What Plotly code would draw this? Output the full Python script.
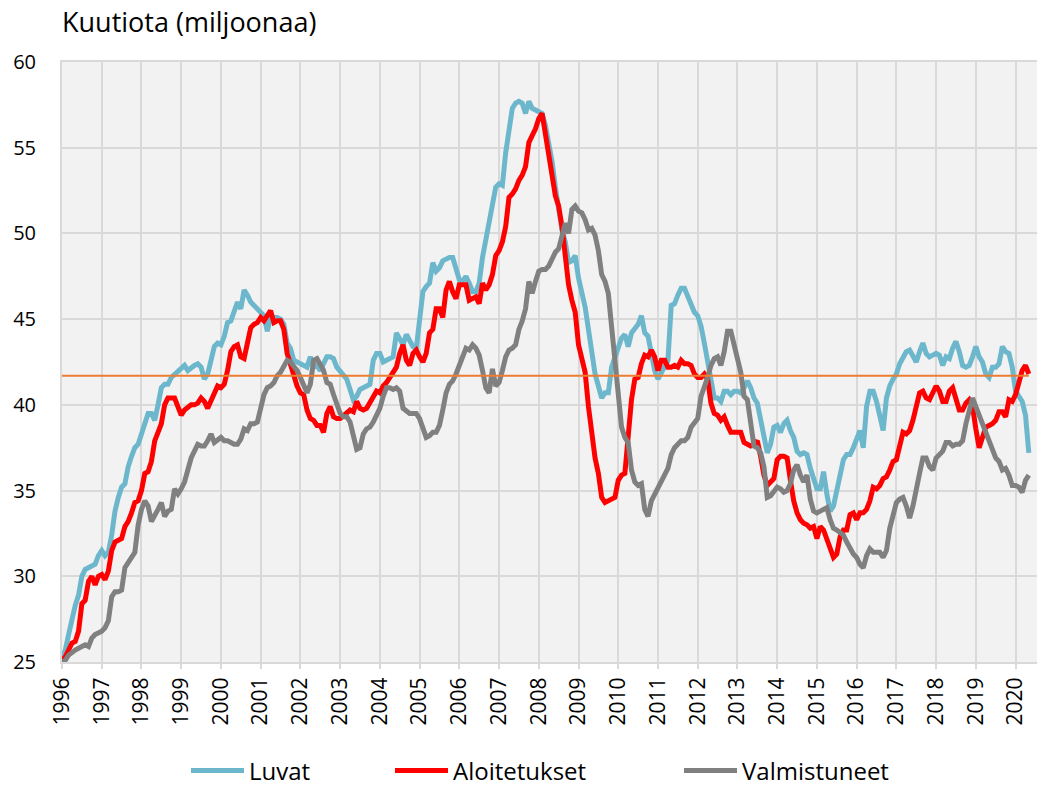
import plotly.graph_objects as go

start_year = 1996
months_count = 293

luvat = [
    25.2, 25.7, 26.6, 27.5, 28.3, 28.9, 30.0, 30.4, 30.5, 30.6, 30.7, 31.2,
    31.5, 31.2, 31.4, 32.4, 33.8, 34.6, 35.2, 35.4, 36.4, 37.0, 37.5, 37.7,
    38.3, 39.1, 39.5, 39.5, 39.1, 40.0, 41.0, 41.2, 41.2, 41.6, 41.8, 42.0,
    42.2, 42.3, 42.0, 42.2, 42.3, 42.4, 42.2, 41.5, 41.8, 42.6, 43.4, 43.6,
    43.5, 44.0, 44.8, 44.9, 45.4, 46.0, 45.6, 46.7, 46.4, 46.0, 45.8, 45.6,
    45.4, 45.2, 44.3, 45.1, 45.1, 45.1, 45.0, 44.7, 43.6, 43.3, 42.6, 42.5,
    42.4, 42.3, 42.2, 42.8, 42.2, 42.3, 42.0, 42.4, 42.8, 42.8, 42.7, 42.2,
    42.0, 41.7, 41.5, 40.9, 40.3, 40.5, 40.9, 41.0, 41.1, 41.2, 42.6, 43.0,
    43.0, 42.5, 42.6, 42.7, 42.8, 44.2, 43.9, 43.5, 44.1, 43.8, 43.4, 43.3,
    45.1, 46.6, 46.9, 47.1, 48.3, 47.8, 48.0, 48.4, 48.5, 48.6, 48.6, 47.8,
    47.3, 47.2, 47.5, 47.1, 46.6, 46.6, 47.1, 48.6, 49.7, 50.8, 51.9, 52.7,
    52.9, 52.8, 54.7, 56.2, 57.3, 57.6, 57.7, 57.6, 57.0, 57.7, 57.3, 57.2,
    57.1, 57.0, 56.3, 55.4, 54.2, 52.7, 51.3, 50.2, 49.5, 48.3, 48.4, 48.7,
    47.4, 46.5, 45.7, 44.4, 43.1, 41.8, 41.1, 40.4, 40.7, 40.7, 42.2, 42.8,
    43.4, 43.9, 44.1, 43.4, 44.2, 44.4, 44.7, 45.2, 44.2, 44.0, 43.1, 42.0,
    41.5, 41.9, 42.3, 42.6, 45.8, 45.9, 46.4, 46.8, 46.8, 46.3, 45.9, 45.4,
    45.2, 44.6, 43.6, 42.5, 41.2, 40.4, 40.4, 40.2, 40.8, 40.8, 40.6, 40.8,
    40.8, 40.7, 41.0, 41.4, 41.0, 40.4, 40.1, 39.2, 38.0, 37.2, 37.7, 38.7,
    38.8, 38.4, 38.9, 39.1, 38.5, 38.1, 37.3, 37.1, 37.2, 37.1, 36.3, 35.6,
    35.1, 35.1, 36.1, 34.8, 33.8, 34.1, 35.1, 36.0, 36.8, 37.1, 37.1, 37.5,
    38.0, 38.5, 37.5, 39.9, 40.8, 40.8, 40.2, 39.4, 38.5, 40.4, 41.1, 41.5,
    41.8, 42.4, 42.8, 43.1, 43.2, 42.9, 42.5, 43.1, 43.6, 43.0, 42.8, 42.9,
    43.0, 42.9, 42.3, 42.8, 42.7, 43.3, 43.7, 43.1, 42.3, 42.2, 42.3, 42.8,
    43.4, 42.8, 42.5, 41.8, 41.6, 42.2, 42.2, 42.4, 43.4, 43.1, 43.0, 42.2,
    40.8, 40.5, 40.2, 39.4, 37.2,
]

aloitetukset = [
    25.1, 25.3, 25.7, 26.1, 26.2, 26.8, 28.4, 28.6, 29.7, 30.0, 29.5, 30.0,
    30.1, 29.8, 30.3, 31.5, 32.0, 32.1, 32.2, 32.9, 33.2, 33.7, 34.3, 34.4,
    35.0, 36.0, 36.1, 36.7, 37.9, 38.4, 38.9, 40.0, 40.4, 40.4, 40.4, 39.9,
    39.4, 39.7, 39.9, 40.0, 40.0, 40.1, 40.4, 40.2, 39.8, 40.3, 40.8, 41.1,
    41.0, 41.2, 42.0, 43.1, 43.4, 43.5, 42.8, 42.7, 43.6, 44.5, 44.7, 44.8,
    45.1, 44.9, 45.2, 45.5, 44.8, 44.9, 44.9, 44.4, 43.0, 42.3, 41.8, 41.1,
    40.7, 40.6, 39.7, 39.2, 39.1, 38.8, 38.8, 38.4, 39.5, 39.9, 39.3, 39.2,
    39.2, 39.4, 39.6, 39.7, 39.6, 40.2, 39.8, 39.7, 39.8, 40.1, 40.5, 40.8,
    40.7, 41.1, 41.3, 41.6, 42.0, 42.2, 43.0, 43.5, 42.6, 42.3, 43.0, 43.2,
    42.8, 42.5, 43.0, 44.2, 44.4, 45.6, 45.6, 45.1, 46.7, 47.2, 46.6, 46.2,
    47.0, 47.0, 47.0, 46.1, 46.2, 46.3, 45.9, 47.1, 46.7, 47.0, 47.6, 48.7,
    49.0, 49.5, 50.4, 52.1, 52.3, 52.6, 53.1, 53.4, 53.9, 55.3, 55.7, 56.1,
    56.7, 57.0, 55.8, 54.5, 53.5, 52.2, 51.6, 50.4, 48.7, 47.0, 46.1, 45.4,
    43.5, 42.8, 41.9, 39.9, 38.3, 36.9, 36.0, 34.6, 34.3, 34.4, 34.5, 34.6,
    35.6, 35.9, 36.0, 38.5, 40.3, 41.5, 41.6, 42.4, 42.9, 42.8, 43.2, 42.8,
    42.0, 42.6, 42.6, 42.2, 42.2, 42.3, 42.2, 42.6, 42.4, 42.4, 42.3, 41.8,
    41.6, 41.6, 41.8, 41.5, 40.1, 39.5, 39.4, 39.1, 39.3, 38.8, 38.4, 38.4,
    38.4, 38.4, 37.8, 37.7, 37.6, 37.7, 37.9, 37.0, 35.9, 35.3, 35.5, 35.7,
    36.8, 37.0, 37.0, 36.9, 35.6, 34.4, 33.7, 33.3, 33.1, 33.0, 32.8, 32.9,
    32.2, 32.9, 32.7, 32.2, 31.6, 31.1, 31.3, 32.3, 32.7, 32.7, 33.6, 33.7,
    33.3, 33.7, 33.7, 33.9, 34.4, 35.2, 35.1, 35.3, 35.7, 35.8, 36.2, 36.7,
    36.8, 37.7, 38.4, 38.3, 38.5, 39.1, 40.0, 40.7, 40.8, 40.4, 40.3, 40.7,
    41.1, 40.8, 40.2, 40.2, 40.8, 41.0, 40.2, 39.7, 39.7, 40.1, 40.3, 39.9,
    38.6, 37.5, 38.1, 38.7, 38.8, 38.9, 39.1, 39.6, 39.6, 39.3, 40.3, 40.2,
    40.6, 41.2, 42.0, 42.3, 41.8,
]

valmistuneet = [
    25.0, 25.1, 25.4, 25.6, 25.7, 25.8, 25.9, 26.0, 25.9, 26.4, 26.6, 26.7,
    26.8, 27.0, 27.4, 28.8, 29.1, 29.1, 29.2, 30.5, 30.8, 31.2, 31.4, 33.0,
    33.9, 34.4, 34.1, 33.2, 33.5, 33.9, 34.3, 33.5, 33.8, 33.9, 35.1, 34.8,
    35.1, 35.5, 36.2, 36.9, 37.3, 37.7, 37.6, 37.6, 37.9, 38.3, 37.8, 38.0,
    38.1, 37.9, 37.9, 37.8, 37.7, 37.7, 38.0, 38.6, 38.5, 38.9, 38.9, 39.0,
    39.8, 40.6, 41.0, 41.1, 41.3, 41.7, 41.9, 42.3, 42.6, 42.5, 42.3, 42.0,
    41.6, 41.1, 40.7, 41.2, 42.6, 42.7, 42.4, 42.0, 41.3, 41.2, 40.6, 40.0,
    39.5, 39.3, 39.3, 39.0, 38.2, 37.4, 37.5, 38.3, 38.6, 38.7, 39.0, 39.4,
    39.8, 40.5, 41.0, 41.0, 40.9, 41.0, 40.8, 39.8, 39.6, 39.5, 39.5, 39.5,
    39.2, 38.6, 38.1, 38.2, 38.4, 38.4, 38.8, 39.7, 40.7, 41.2, 41.4, 41.8,
    42.3, 42.9, 43.3, 43.2, 43.5, 43.3, 42.9, 42.0, 41.0, 40.7, 42.1, 41.1,
    41.3, 42.0, 42.8, 43.2, 43.3, 43.5, 44.4, 44.9, 45.6, 47.2, 46.5, 47.2,
    47.8, 47.9, 47.9, 48.1, 48.6, 48.9, 49.1, 49.9, 50.6, 50.0, 51.4, 51.6,
    51.3, 51.2, 50.8, 50.2, 50.3, 49.9, 49.0, 47.6, 47.2, 46.5, 44.4, 42.2,
    40.8, 38.7, 38.1, 37.8, 36.2, 35.5, 35.3, 35.4, 33.9, 33.5, 34.4, 34.8,
    35.1, 35.6, 36.0, 36.3, 37.1, 37.5, 37.7, 37.9, 37.9, 38.1, 38.7, 38.9,
    39.2, 40.5, 41.0, 41.6, 42.3, 42.7, 42.8, 42.3, 43.1, 44.3, 44.3, 43.6,
    42.7, 41.9, 40.5, 40.3, 38.7, 37.6, 37.5, 37.2, 36.4, 34.6, 34.7, 34.9,
    35.2, 35.1, 34.9, 35.0, 35.4, 36.2, 36.5, 35.9, 35.5, 35.9, 34.5, 33.8,
    33.7, 33.8, 33.9, 34.0, 33.3, 32.8, 32.7, 32.5, 32.4, 32.0, 31.6, 31.3,
    31.1, 30.7, 30.5, 31.2, 31.6, 31.4, 31.4, 31.4, 31.1, 31.5, 32.8, 33.7,
    34.3, 34.5, 34.6, 34.1, 33.4, 34.1, 34.9, 36.0, 36.9, 36.9, 36.4, 36.2,
    36.9, 37.1, 37.3, 37.8, 37.8, 37.6, 37.7, 37.7, 37.9, 38.9, 39.7, 40.4,
    39.9, 39.4, 39.1, 38.5, 38.1, 37.4, 36.9, 36.7, 36.2, 36.3, 35.9, 35.3,
    35.3, 35.2, 34.9, 35.6, 35.9,
]

average_level = 41.7
year_ticks = list(range(1996, 2021))
tick_labels = [str(y) for y in year_ticks]

x = [start_year + m / 12 for m in range(months_count)]

FONT = "Open Sans"
GRID = "#d9d9d9"

# The page body adds an 8 px offset; figure coordinates below account for it.
OFF = 8
FIG_W, FIG_H = 1045 - OFF, 786
plot_l, plot_r = 62 - OFF, 1041 - OFF
plot_t, plot_b = 62 - OFF, 662 - OFF
plot_w = plot_r - plot_l
plot_h = plot_b - plot_t

fig = go.Figure()
fig.add_trace(go.Scatter(x=x, y=luvat, name="Luvat", mode="lines",
                         legend="legend",
                         line=dict(color="#6db7cc", width=5)))
fig.add_trace(go.Scatter(x=x, y=aloitetukset, name="Aloitetukset", mode="lines",
                         legend="legend2",
                         line=dict(color="#ff0000", width=5)))
fig.add_trace(go.Scatter(x=x, y=valmistuneet, name="Valmistuneet", mode="lines",
                         legend="legend3",
                         line=dict(color="#808080", width=5)))
fig.add_trace(go.Scatter(x=[x[0], x[-1]], y=[average_level, average_level],
                         mode="lines", showlegend=False,
                         line=dict(color="#ed7d31", width=2)))


def legend_at(page_px_left):
    return dict(orientation="h",
                x=(page_px_left - OFF - plot_l) / plot_w, xanchor="left",
                y=-(771 - 662) / plot_h, yanchor="middle",
                font=dict(family=FONT, size=24, color="black"),
                itemwidth=53, bgcolor="rgba(0,0,0,0)")


fig.update_layout(
    width=FIG_W, height=FIG_H,
    margin=dict(l=plot_l, r=FIG_W - plot_r, t=plot_t, b=FIG_H - plot_b,
                autoexpand=False),
    paper_bgcolor="white",
    plot_bgcolor="#f2f2f2",
    font=dict(family=FONT, color="black"),
    title=dict(text="Kuutiota (miljoonaa)", x=(62 - OFF) / FIG_W, xanchor="left",
               y=1.0, yanchor="top", pad=dict(t=5, b=0, l=0, r=0),
               font=dict(family=FONT, size=27, color="black")),
    xaxis=dict(range=[1996, 2020.64], tickmode="array", tickvals=year_ticks,
               ticktext=tick_labels, tickangle=-90,
               tickfont=dict(family=FONT, size=21, color="black"),
               showgrid=True, gridcolor=GRID, gridwidth=2,
               ticks="outside", ticklen=5, tickcolor=GRID, tickwidth=2,
               showline=True, linecolor=GRID, linewidth=2, mirror=True,
               zeroline=False, automargin=False),
    yaxis=dict(range=[25, 60], dtick=5, tick0=25,
               tickfont=dict(family=FONT, size=20, color="black"),
               showgrid=True, gridcolor=GRID, gridwidth=2,
               ticks="", ticklabelstandoff=20,
               showline=True, linecolor=GRID, linewidth=2, mirror=True,
               zeroline=False, automargin=False),
    legend=legend_at(186),
    legend2=legend_at(390),
    legend3=legend_at(679),
    showlegend=True,
)

fig.write_html("out.html")
